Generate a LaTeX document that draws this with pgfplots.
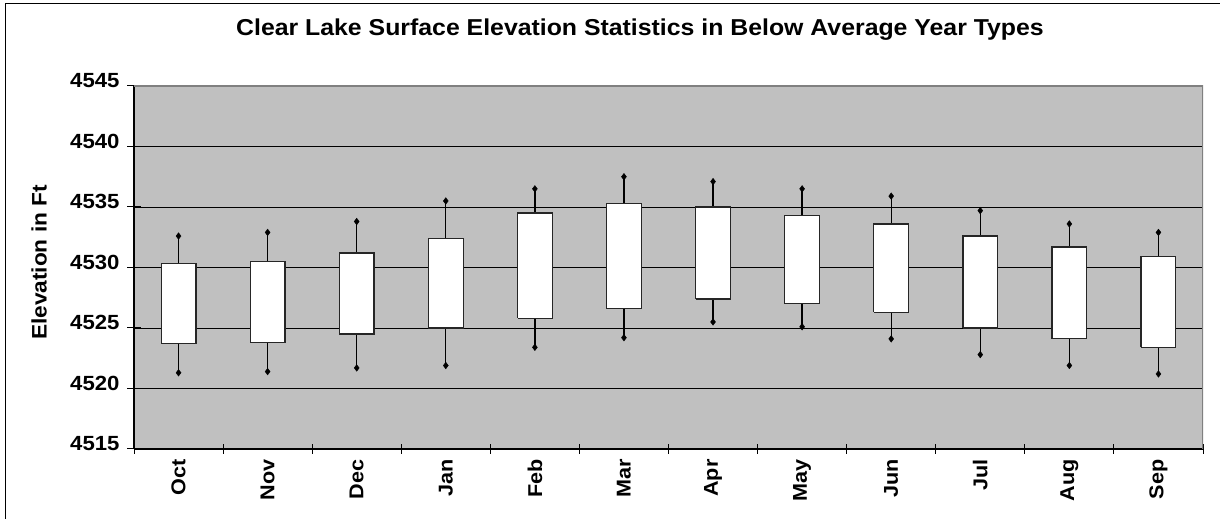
\documentclass[border=0pt]{standalone}
\usepackage{fontspec}
\setmainfont{Liberation Sans}[FakeStretch=1.08]
\usepackage{pgfplots}
\pgfplotsset{compat=1.18}
\definecolor{plotbg}{RGB}{192,192,192}
\definecolor{framegray}{RGB}{128,128,128}
% #1 x, #2 box left, #3 box right, #4 min, #5 q1, #6 q3, #7 max
\newcommand{\bx}[7]{%
\addplot[black, line width=1.3pt] coordinates {(#1,#4) (#1,#5)};
\addplot[black, line width=1.3pt] coordinates {(#1,#6) (#1,#7)};
\addplot[draw=black!85, fill=white, line width=1.2pt, line join=miter] coordinates {(#2,#5) (#3,#5) (#3,#6) (#2,#6) (#2,#5)};}
\begin{document}
\begin{tikzpicture}
\useasboundingbox (0pt,0pt) rectangle (1220pt,519pt);
\fill[white] (0pt,0pt) rectangle (1220pt,519pt);
\draw[line width=1.3pt] (5.7pt,0pt) -- (5.7pt,515.5pt) -- (1220pt,515.5pt);
\node[font=\fontsize{23}{23}\selectfont\bfseries] at (640pt,489.5pt) {Clear Lake Surface Elevation Statistics in Below Average Year Types};
\node[rotate=90, font=\fontsize{21}{21}\selectfont\bfseries] at (39pt,256.5pt) {Elevation in Ft};
\begin{axis}[
  at={(134pt,70pt)}, anchor=south west,
  width=1069pt, height=363pt, scale only axis,
  xmin=0.5, xmax=12.5, ymin=4515, ymax=4545,
  axis x line*=bottom, axis y line*=left,
  axis line style={line width=1.3pt, black, -},
  axis background/.style={fill=plotbg},
  ytick={4515,4520,...,4545},
  xtick={1,...,12},
  xticklabels={Oct,Nov,Dec,Jan,Feb,Mar,Apr,May,Jun,Jul,Aug,Sep},
  minor xtick={0.5,1.5,...,12.5},
  tick align=center,
  major tick length=14pt,
  minor tick length=10pt,
  major x tick style={draw=none},
  every tick/.style={black, line width=1pt},
  minor x tick style={black, line width=1pt},
  ymajorgrids,
  grid style={black, line width=0.9pt},
  yticklabel style={font=\fontsize{20.5}{20.5}\selectfont\bfseries, yshift=5.5pt, xshift=-4pt},
  xticklabel style={font=\fontsize{20}{20}\selectfont\bfseries, rotate=90, anchor=east},
  /pgf/number format/assume math mode=true,
  /pgf/number format/1000 sep={},
]
\bx{1}{0.805}{1.195}{4521.3}{4523.7}{4530.3}{4532.6}
\bx{2}{1.805}{2.195}{4521.4}{4523.8}{4530.5}{4532.9}
\bx{3}{2.805}{3.195}{4521.7}{4524.5}{4531.2}{4533.8}
\bx{4}{3.805}{4.195}{4521.9}{4525.0}{4532.4}{4535.5}
\bx{5}{4.805}{5.195}{4523.4}{4525.8}{4534.5}{4536.5}
\bx{6}{5.805}{6.195}{4524.2}{4526.6}{4535.3}{4537.5}
\bx{7}{6.805}{7.195}{4525.5}{4527.4}{4535.0}{4537.1}
\bx{8}{7.805}{8.195}{4525.1}{4527.0}{4534.3}{4536.5}
\bx{9}{8.805}{9.195}{4524.1}{4526.3}{4533.6}{4535.9}
\bx{10}{9.805}{10.195}{4522.8}{4525.0}{4532.6}{4534.7}
\bx{11}{10.805}{11.195}{4521.9}{4524.1}{4531.7}{4533.6}
\bx{12}{11.805}{12.195}{4521.2}{4523.4}{4530.9}{4532.9}
\addplot[only marks, mark=diamond*, mark size=3.3pt, black] coordinates {
(1,4521.3) (1,4532.6) (2,4521.4) (2,4532.9) (3,4521.7) (3,4533.8)
(4,4521.9) (4,4535.5) (5,4523.4) (5,4536.5) (6,4524.2) (6,4537.5)
(7,4525.5) (7,4537.1) (8,4525.1) (8,4536.5) (9,4524.1) (9,4535.9)
(10,4522.8) (10,4534.7) (11,4521.9) (11,4533.6) (12,4521.2) (12,4532.9)};
\draw[framegray, line width=1.6pt] (rel axis cs:0,1) -- (rel axis cs:1,1) -- (rel axis cs:1,0);
\end{axis}
\end{tikzpicture}
\end{document}
